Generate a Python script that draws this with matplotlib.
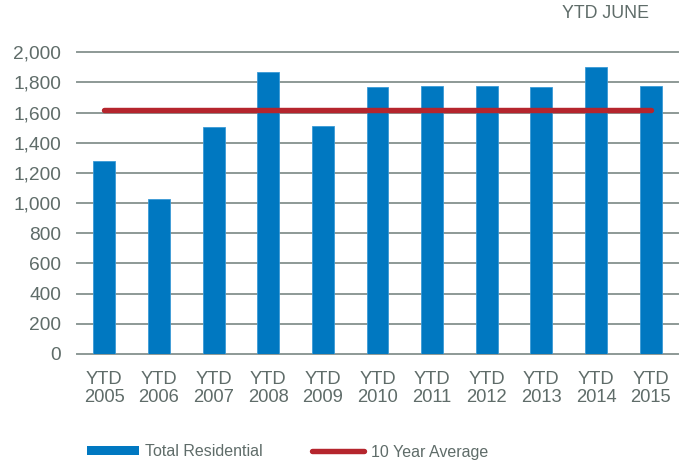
import numpy as np
import matplotlib
matplotlib.use("Agg")
import matplotlib.pyplot as plt
from matplotlib.patches import Patch
from matplotlib.lines import Line2D

# values
years = ["2005", "2006", "2007", "2008", "2009", "2010",
         "2011", "2012", "2013", "2014", "2015"]
total_residential = [1282, 1026, 1503, 1871, 1514, 1768,
                     1775, 1779, 1768, 1905, 1779]
ten_year_average = 1618
y_ticks = [0, 200, 400, 600, 800, 1000, 1200, 1400, 1600, 1800, 2000]

text_color = "#5f6c69"
grid_color = "#8d9996"
bar_color = "#0078c1"
line_color = "#b5252d"

plt.rcParams["font.family"] = ["Liberation Sans", "DejaVu Sans"]

fig = plt.figure(figsize=(6.92, 4.66), dpi=100)
ax = fig.add_axes([77 / 692, 1 - 354 / 466, (678 - 77) / 692, (354 - 52.3) / 466])

x = np.arange(len(years))
ax.bar(x, total_residential, width=0.40, color=bar_color,
       edgecolor="#3a9ad6", linewidth=0.6, zorder=3)
ax.plot(x, np.full(len(x), ten_year_average), color=line_color,
        linewidth=3.9, solid_capstyle="round", zorder=4)

ax.set_xlim(-0.5, len(years) - 0.5)
ax.set_ylim(0, 2000)
ax.set_yticks(y_ticks)
ax.set_yticklabels([f"{v:,}" for v in y_ticks])
ax.set_xticks(x)
ax.set_xticklabels([f"YTD\n{y}" for y in years], linespacing=1.05)

for s in ax.spines.values():
    s.set_visible(False)
ax.grid(axis="y", color=grid_color, linewidth=1.4, zorder=0)
ax.set_axisbelow(True)
for gl in ax.get_ygridlines():
    gl.set_clip_on(False)
ax.tick_params(axis="both", length=0, labelcolor=text_color)
ax.tick_params(axis="y", pad=11.5, labelsize=13.8)
ax.tick_params(axis="x", pad=12.5, labelsize=13.2)

fig.text(649 / 692, 1 - 13 / 466, "YTD JUNE", ha="right", va="center",
         fontsize=12.8, color=text_color)

handles = [
    Patch(facecolor=bar_color, edgecolor="none"),
    Line2D([], [], color=line_color, linewidth=3.9, solid_capstyle="round"),
]
fig.legend(handles, ["Total Residential", "10 Year Average"],
           loc="center left", bbox_to_anchor=(87 / 692, 1 - 452 / 466),
           ncol=2, frameon=False, fontsize=11.5, labelcolor=text_color,
           handlelength=3.25, handleheight=0.5, handletextpad=0.4,
           columnspacing=3.1, borderpad=0, borderaxespad=0)

fig.savefig("out.png", dpi=100)
